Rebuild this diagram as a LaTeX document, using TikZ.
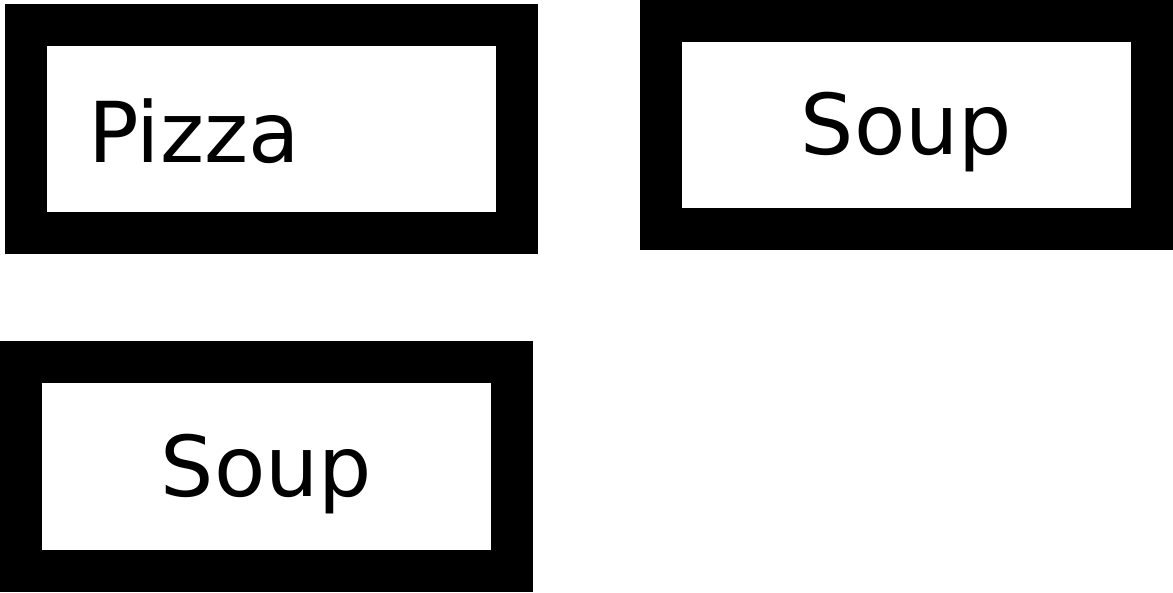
\documentclass[tikz,border=0pt]{standalone}
\usepackage{fontspec}
\setmainfont{DejaVu Sans}
\begin{document}
\begin{tikzpicture}[x=1pt,y=1pt,
  box/.style={draw=black, line width=42pt, fill=white, minimum width=491pt, minimum height=208pt,
    font=\fontsize{84}{100}\selectfont, text depth=0pt}]
\useasboundingbox (0,0) rectangle (1173,592);
\node[box, text height=68pt, text width=367pt, inner xsep=62pt, align=left] (pizza) at (271.5,463) {Pizza};
\node[box, text height=60pt] (soupA) at (906.5,467) {Soup};
\node[box, text height=60pt] (soupB) at (266.5,125.5) {Soup};
\end{tikzpicture}
\end{document}
